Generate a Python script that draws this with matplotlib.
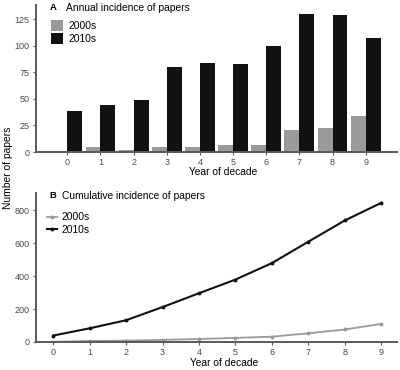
import numpy as np
import matplotlib
matplotlib.use("Agg")
import matplotlib.pyplot as plt
from matplotlib.patches import Patch
from matplotlib.lines import Line2D

years = [0, 1, 2, 3, 4, 5, 6, 7, 8, 9]
annual_2000s = [1, 5, 2, 5, 5, 7, 7, 21, 23, 34]
annual_2010s = [39, 44, 49, 80, 84, 83, 100, 130, 129, 107]
series_labels = ["2000s", "2010s"]
yticks_a = [0, 25, 50, 75, 100, 125]
yticks_b = [0, 200, 400, 600, 800]

cum_2000s = np.cumsum(annual_2000s)
cum_2010s = np.cumsum(annual_2010s)

plt.rcParams['font.family'] = ['Liberation Sans', 'DejaVu Sans']

GRAY = "#9a9a9a"
BLACK = "#111111"
SPINE = "#5a5a5a"
TICKC = "#4a4a4a"
FS = 7.4

fig = plt.figure(figsize=(4.0, 3.7), dpi=100)
axA = fig.add_axes([0.09, 0.589, 0.9025, 0.397])
axB = fig.add_axes([0.09, 0.0757, 0.9025, 0.402])

x = np.array(years, dtype=float)
w = 0.45
axA.bar(x - w / 2, annual_2000s, width=w, color=GRAY, linewidth=0)
axA.bar(x + w / 2, annual_2010s, width=w, color=BLACK, linewidth=0)
axA.set_xlim(-0.945, 9.945)
axA.set_ylim(0, 138)
axA.set_yticks(yticks_a)
axA.set_xticks(years)

axB.plot(x, cum_2000s, color=GRAY, lw=1.3, marker='o', ms=1.8)
axB.plot(x, cum_2010s, color=BLACK, lw=1.5, marker='o', ms=1.8)
axB.set_xlim(-0.47, 9.43)
axB.set_ylim(0, 903)
axB.set_yticks(yticks_b)
axB.set_xticks(years)

for ax in (axA, axB):
    for s in ("top", "right"):
        ax.spines[s].set_visible(False)
    for s in ("left", "bottom"):
        ax.spines[s].set_color(SPINE)
        ax.spines[s].set_linewidth(1.4)
    ax.tick_params(axis='both', length=2.5, width=0.8, color=SPINE,
                   labelsize=6.5, labelcolor=TICKC, pad=2)
    for lab in ax.get_xticklabels() + ax.get_yticklabels():
        lab.set_fontfamily(['Liberation Sans Narrow', 'Liberation Sans', 'DejaVu Sans'])

# Titles
fig.text(50 / 400, 1 - 8 / 370, "A", fontsize=6.8, fontweight='bold', va='center', ha='left')
fig.text(66 / 400, 1 - 8 / 370, "Annual incidence of papers", fontsize=FS, va='center', ha='left')
fig.text(49 / 400, 1 - 196 / 370, "B", fontsize=6.8, fontweight='bold', va='center', ha='left')
fig.text(62 / 400, 1 - 196 / 370, "Cumulative incidence of papers", fontsize=FS, va='center', ha='left')

# Legends
hA = [Patch(facecolor=GRAY, edgecolor='none'), Patch(facecolor=BLACK, edgecolor='none')]
legA = axA.legend(hA, series_labels, loc='upper left', bbox_to_anchor=(0.03, 0.925),
                  frameon=False, fontsize=FS, handlelength=1.2, handleheight=1.25,
                  handletextpad=0.5, labelspacing=0.15, borderaxespad=0)
hB = [Line2D([], [], color=GRAY, lw=1.3, marker='o', ms=1.8),
      Line2D([], [], color=BLACK, lw=1.5, marker='o', ms=1.8)]
legB = axB.legend(hB, series_labels, loc='upper left', bbox_to_anchor=(0.02, 0.9),
                  frameon=False, fontsize=FS, handlelength=0.9,
                  handletextpad=0.5, labelspacing=0.25, borderaxespad=0)

# Axis labels
fig.text(8 / 400, 1 - 168 / 370, "Number of papers", rotation=90, fontsize=FS,
         va='center', ha='center')
fig.text(223 / 400, 1 - 172 / 370, "Year of decade", fontsize=FS, va='center', ha='center')
fig.text(224 / 400, 1 - 363 / 370, "Year of decade", fontsize=FS, va='center', ha='center')

fig.savefig("out.png", dpi=100)
